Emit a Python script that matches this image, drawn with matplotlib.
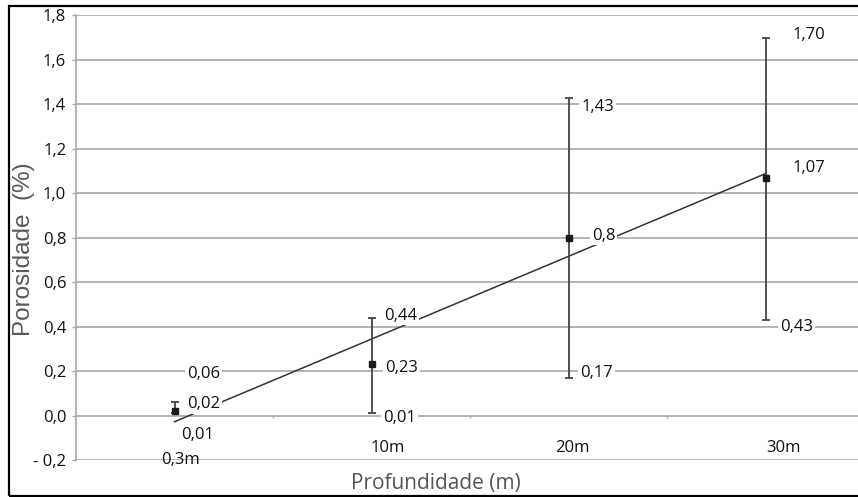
import numpy as np
import matplotlib
matplotlib.use("Agg")
import matplotlib.pyplot as plt
from matplotlib.patches import Rectangle

# ---- data ----
categories = ['0,3m', '10m', '20m', '30m']
means = [0.02, 0.23, 0.80, 1.07]
upper = [0.06, 0.44, 1.43, 1.70]
lower = [0.01, 0.01, 0.17, 0.43]
mean_labels = ['0,02', '0,23', '0,8', '1,07']
upper_labels = ['0,06', '0,44', '1,43', '1,70']
lower_labels = ['0,01', '0,01', '0,17', '0,43']
yticks = [-0.2, 0.0, 0.2, 0.4, 0.6, 0.8, 1.0, 1.2, 1.4, 1.6, 1.8]
ytick_labels = ['- 0,2', '0,0', '0,2', '0,4', '0,6', '0,8', '1,0', '1,2', '1,4', '1,6', '1,8']

# ---- label placement (pixel offsets) ----
upper_off = [(29, 28), (29, 2), (29, -9), (43, 3)]
mean_off = [(29, 7), (30, -4), (35, 2), (43, 10)]
lower_off = [(23, -22), (28, -5), (28, 5), (31, -7)]
cat_off = [(6, -44), (16, -32), (4, -32), (18, -32)]

FONT = 'Open Sans'
GRID = '#a8a8a8'

fig = plt.figure(figsize=(8.58, 4.97), dpi=100)
ax = fig.add_axes([76 / 858, 1 - 460 / 497, 788 / 858, (460 - 15.3) / 497])

x = np.arange(len(categories)) + 0.5
means_a = np.array(means)
yerr = np.vstack([means_a - np.array(lower), np.array(upper) - means_a])

ax.set_xlim(0, len(categories))
ax.set_ylim(-0.2, 1.8)

for s in ['top', 'right', 'bottom']:
    ax.spines[s].set_visible(False)
ax.spines['left'].set_color(GRID)
ax.spines['left'].set_linewidth(1.2)

ax.set_yticks(yticks)
ax.set_yticklabels(ytick_labels, fontfamily=FONT, fontsize=12, color='#111111')
ax.tick_params(axis='y', length=3, width=1.0, color=GRID, pad=4)
ax.set_xticks([])
ax.yaxis.grid(True, color=GRID, linewidth=1.2, zorder=0)
ax.set_axisbelow(True)

# category boundary ticks on the zero line
ax.vlines(np.arange(1, len(categories)), -0.012, 0, color=GRID, linewidth=1.0, zorder=1)

# trend line (linear fit through the means)
coef = np.polyfit(x, means_a, 1)
ax.plot(x, np.polyval(coef, x), color='#333333', linewidth=1.1, zorder=2)

# error bars and markers
ax.errorbar(x, means_a, yerr=yerr, fmt='s', color='#1a1a1a', markersize=5,
            ecolor='#444444', elinewidth=1.3, capsize=3, capthick=1.3, zorder=3)

bbox = dict(boxstyle='square,pad=0.1', fc='white', ec='none')
for i in range(len(categories)):
    for val, txt, off in [(upper[i], upper_labels[i], upper_off[i]),
                          (means[i], mean_labels[i], mean_off[i]),
                          (lower[i], lower_labels[i], lower_off[i])]:
        ax.annotate(txt, xy=(x[i], val), xytext=off, textcoords='offset pixels',
                    ha='center', va='center', fontfamily=FONT, fontsize=12,
                    color='#111111', bbox=bbox, zorder=4)
    ax.annotate(categories[i], xy=(x[i], 0), xytext=cat_off[i], textcoords='offset pixels',
                ha='center', va='center', fontfamily=FONT, fontsize=12, color='#111111',
                zorder=4)

fig.text(24 / 858, 1 - 249 / 497, 'Porosidade  (%)', rotation=90, ha='center', va='center',
         fontfamily='Liberation Sans', fontsize=17.5, color='#595959')
fig.text(436 / 858, 1 - 484 / 497, 'Profundidade (m)', ha='center', va='center',
         fontfamily=FONT, fontsize=15, color='#555555')

# outer frame
fig.patches.append(Rectangle((9 / 858, 1 - 496 / 497), 1.1, (496 - 6) / 497,
                             transform=fig.transFigure, fill=False, ec='black', lw=1.6))

fig.savefig('out.png', dpi=100)
